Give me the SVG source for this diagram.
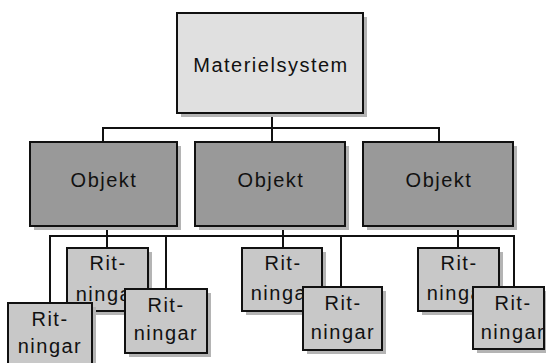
<svg xmlns="http://www.w3.org/2000/svg" width="546" height="363" viewBox="0 0 546 363">
<style>
.box{stroke:#111;stroke-width:2}
.sh{fill:#b4b4b4}
.top{fill:#e0e0e0}
.obj{fill:#999}
.rit{fill:#c8c8c8}
.t{font-family:"Liberation Sans",Arial,sans-serif;font-size:20px;letter-spacing:1.5px;fill:#111;text-anchor:middle}
.c{fill:none;stroke:#111;stroke-width:2}
</style>
<rect width="546" height="363" fill="#fff"/>
<g id="connectors" class="c">
<path d="M272,113V128M103,142V128H439V142M272,128V142"/>
<path d="M107,226V248M50,303V236H514V287M166,236V289M283,226V248M341,236V287M458,226V248"/>
</g>
<g id="materielsystem">
<rect class="sh" x="181" y="17" width="186" height="100"/>
<rect class="box top" x="177" y="13" width="186" height="100"/>
<text class="t" x="271" y="72">Materielsystem</text>
</g>
<g id="objekt1">
<rect class="sh" x="34" y="146" width="147" height="84"/>
<rect class="box obj" x="30" y="142" width="147" height="84"/>
<text class="t" x="104" y="187">Objekt</text>
</g>
<g id="objekt2">
<rect class="sh" x="199" y="146" width="150" height="84"/>
<rect class="box obj" x="195" y="142" width="150" height="84"/>
<text class="t" x="271" y="187">Objekt</text>
</g>
<g id="objekt3">
<rect class="sh" x="367" y="146" width="150" height="84"/>
<rect class="box obj" x="363" y="142" width="150" height="84"/>
<text class="t" x="439" y="187">Objekt</text>
</g>
<g id="ritningar-a">
<rect class="sh" x="71" y="252" width="81" height="63"/>
<rect class="box rit" x="67" y="248" width="81" height="63"/>
<text class="t" x="108" y="270">Rit-</text>
<text class="t" x="108" y="301">ningar</text>
</g>
<g id="ritningar-d">
<rect class="sh" x="246" y="252" width="80" height="63"/>
<rect class="box rit" x="242" y="248" width="80" height="63"/>
<text class="t" x="283" y="270">Rit-</text>
<text class="t" x="283" y="300">ningar</text>
</g>
<g id="ritningar-f">
<rect class="sh" x="422" y="252" width="81" height="63"/>
<rect class="box rit" x="418" y="248" width="81" height="63"/>
<text class="t" x="459" y="270">Rit-</text>
<text class="t" x="459" y="300">ningar</text>
</g>
<g id="ritningar-b">
<rect class="sh" x="12" y="307" width="84" height="63"/>
<rect class="box rit" x="8" y="303" width="84" height="63"/>
<text class="t" x="50" y="326">Rit-</text>
<text class="t" x="50" y="353">ningar</text>
</g>
<g id="ritningar-c">
<rect class="sh" x="129" y="293" width="82" height="64"/>
<rect class="box rit" x="125" y="289" width="82" height="64"/>
<text class="t" x="166" y="312">Rit-</text>
<text class="t" x="166" y="340">ningar</text>
</g>
<g id="ritningar-e">
<rect class="sh" x="307" y="291" width="79" height="63"/>
<rect class="box rit" x="303" y="287" width="79" height="63"/>
<text class="t" x="343" y="310">Rit-</text>
<text class="t" x="343" y="339">ningar</text>
</g>
<g id="ritningar-g">
<rect class="sh" x="477" y="291" width="71" height="62"/>
<rect class="box rit" x="473" y="287" width="71" height="62"/>
<text class="t" x="513" y="310">Rit-</text>
<text class="t" x="513" y="339">ningar</text>
</g>
</svg>
